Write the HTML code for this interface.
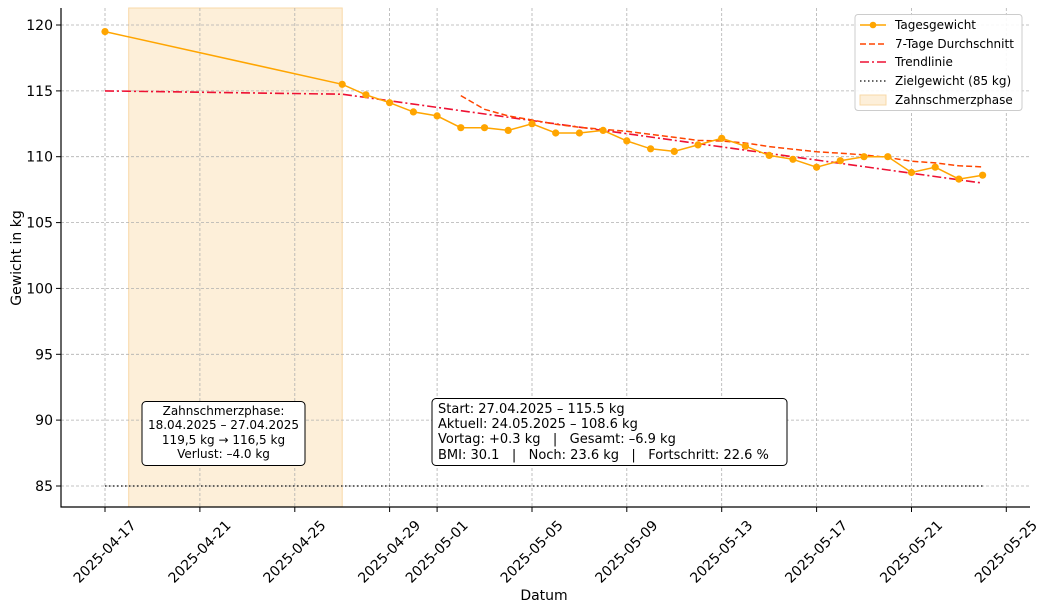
<!DOCTYPE html>
<html><head><meta charset="utf-8"><style>
html,body{margin:0;padding:0;background:#fff;}
svg text{font-family:"DejaVu Sans","Liberation Sans",sans-serif;}
</style></head><body>
<svg width="1052" height="611" viewBox="0 0 1052 611" xmlns="http://www.w3.org/2000/svg">
<rect width="1052" height="611" fill="#fff"/>
<rect x="128.7" y="8" width="213.5" height="499" fill="#fdefd9" stroke="#f8d9a8" stroke-width="1"/>
<g stroke="#b0b0b0" stroke-width="0.8" stroke-dasharray="3,2">
<line x1="61" x2="1030" y1="25" y2="25"/><line x1="61" x2="1030" y1="90.9" y2="90.9"/>
<line x1="61" x2="1030" y1="156.7" y2="156.7"/><line x1="61" x2="1030" y1="222.6" y2="222.6"/>
<line x1="61" x2="1030" y1="288.4" y2="288.4"/><line x1="61" x2="1030" y1="354.3" y2="354.3"/>
<line x1="61" x2="1030" y1="420.1" y2="420.1"/><line x1="61" x2="1030" y1="486" y2="486"/>
<line x1="105" x2="105" y1="8" y2="507"/><line x1="199.9" x2="199.9" y1="8" y2="507"/>
<line x1="294.8" x2="294.8" y1="8" y2="507"/><line x1="389.6" x2="389.6" y1="8" y2="507"/>
<line x1="437.1" x2="437.1" y1="8" y2="507"/><line x1="532" x2="532" y1="8" y2="507"/>
<line x1="626.8" x2="626.8" y1="8" y2="507"/><line x1="721.7" x2="721.7" y1="8" y2="507"/>
<line x1="816.6" x2="816.6" y1="8" y2="507"/><line x1="911.5" x2="911.5" y1="8" y2="507"/>
<line x1="1006.3" x2="1006.3" y1="8" y2="507"/>
</g>
<line x1="105" x2="983" y1="486" y2="486" stroke="#333" stroke-width="1.5" stroke-dasharray="1.5,2.5"/>
<polyline points="105,90.9 342.2,94.2 982.6,183.1" fill="none" stroke="#ee1133" stroke-width="1.6" stroke-dasharray="9,3,2,3"/>
<polyline points="460.8,95.6 484.5,109.3 508.2,115.9 532,120 555.7,124.3 579.4,127.3 603.1,129.4 626.8,131.3 650.6,134.3 674.3,137.3 698,140.4 721.7,141 745.4,143 769.2,146.6 792.9,149.2 816.6,151.8 840.3,153.2 864,154.9 887.8,157.5 911.5,161.2 935.2,162.9 958.9,165.8 982.6,166.9" fill="none" stroke="#ff4500" stroke-width="1.5" stroke-dasharray="6,3"/>
<polyline points="105,31.6 342.2,84.3 365.9,94.8 389.6,102.7 413.4,111.9 437.1,115.9 460.8,127.7 484.5,127.7 508.2,130.4 532,123.8 555.7,133 579.4,133 603.1,130.4 626.8,140.9 650.6,148.8 674.3,151.4 698,144.9 721.7,138.3 745.4,146.2 769.2,155.4 792.9,159.3 816.6,167.2 840.3,160.7 864,156.7 887.8,156.7 911.5,172.5 935.2,167.2 958.9,179.1 982.6,175.2" fill="none" stroke="#ffa500" stroke-width="1.5"/>
<g fill="#ffa500">
<circle cx="105" cy="31.6" r="3.6"/><circle cx="342.2" cy="84.3" r="3.6"/><circle cx="365.9" cy="94.8" r="3.6"/><circle cx="389.6" cy="102.7" r="3.6"/><circle cx="413.4" cy="111.9" r="3.6"/><circle cx="437.1" cy="115.9" r="3.6"/><circle cx="460.8" cy="127.7" r="3.6"/><circle cx="484.5" cy="127.7" r="3.6"/><circle cx="508.2" cy="130.4" r="3.6"/><circle cx="532" cy="123.8" r="3.6"/><circle cx="555.7" cy="133" r="3.6"/><circle cx="579.4" cy="133" r="3.6"/><circle cx="603.1" cy="130.4" r="3.6"/><circle cx="626.8" cy="140.9" r="3.6"/><circle cx="650.6" cy="148.8" r="3.6"/><circle cx="674.3" cy="151.4" r="3.6"/><circle cx="698" cy="144.9" r="3.6"/><circle cx="721.7" cy="138.3" r="3.6"/><circle cx="745.4" cy="146.2" r="3.6"/><circle cx="769.2" cy="155.4" r="3.6"/><circle cx="792.9" cy="159.3" r="3.6"/><circle cx="816.6" cy="167.2" r="3.6"/><circle cx="840.3" cy="160.7" r="3.6"/><circle cx="864" cy="156.7" r="3.6"/><circle cx="887.8" cy="156.7" r="3.6"/><circle cx="911.5" cy="172.5" r="3.6"/><circle cx="935.2" cy="167.2" r="3.6"/><circle cx="958.9" cy="179.1" r="3.6"/><circle cx="982.6" cy="175.2" r="3.6"/>
</g>
<line x1="61" x2="61" y1="8" y2="507.5" stroke="#000" stroke-width="1.2"/>
<line x1="60.5" x2="1030" y1="507" y2="507" stroke="#000" stroke-width="1.2"/>
<g stroke="#000" stroke-width="1">
<line x1="56" x2="61" y1="25" y2="25"/><line x1="56" x2="61" y1="90.9" y2="90.9"/><line x1="56" x2="61" y1="156.7" y2="156.7"/><line x1="56" x2="61" y1="222.6" y2="222.6"/><line x1="56" x2="61" y1="288.4" y2="288.4"/><line x1="56" x2="61" y1="354.3" y2="354.3"/><line x1="56" x2="61" y1="420.1" y2="420.1"/><line x1="56" x2="61" y1="486" y2="486"/>
<line x1="105" x2="105" y1="507" y2="512"/><line x1="199.9" x2="199.9" y1="507" y2="512"/><line x1="294.8" x2="294.8" y1="507" y2="512"/><line x1="389.6" x2="389.6" y1="507" y2="512"/><line x1="437.1" x2="437.1" y1="507" y2="512"/><line x1="532" x2="532" y1="507" y2="512"/><line x1="626.8" x2="626.8" y1="507" y2="512"/><line x1="721.7" x2="721.7" y1="507" y2="512"/><line x1="816.6" x2="816.6" y1="507" y2="512"/><line x1="911.5" x2="911.5" y1="507" y2="512"/><line x1="1006.3" x2="1006.3" y1="507" y2="512"/>
</g>
<g font-size="14" text-anchor="end" fill="#000">
<text x="53" y="30">120</text><text x="53" y="95.9">115</text><text x="53" y="161.7">110</text><text x="53" y="227.6">105</text><text x="53" y="293.4">100</text><text x="53" y="359.3">95</text><text x="53" y="425.1">90</text><text x="53" y="491">85</text>
</g>
<g font-size="14" text-anchor="middle" fill="#000">
<text transform="translate(108,555) rotate(-45)">2025-04-17</text>
<text transform="translate(202.9,555) rotate(-45)">2025-04-21</text>
<text transform="translate(297.8,555) rotate(-45)">2025-04-25</text>
<text transform="translate(392.6,555) rotate(-45)">2025-04-29</text>
<text transform="translate(440.1,555) rotate(-45)">2025-05-01</text>
<text transform="translate(535,555) rotate(-45)">2025-05-05</text>
<text transform="translate(629.8,555) rotate(-45)">2025-05-09</text>
<text transform="translate(724.7,555) rotate(-45)">2025-05-13</text>
<text transform="translate(819.6,555) rotate(-45)">2025-05-17</text>
<text transform="translate(914.5,555) rotate(-45)">2025-05-21</text>
<text transform="translate(1009.3,555) rotate(-45)">2025-05-25</text>
</g>
<text x="544" y="600" font-size="14" text-anchor="middle">Datum</text>
<text transform="translate(21,258) rotate(-90)" font-size="14" text-anchor="middle">Gewicht in kg</text>
<rect x="142" y="401.5" width="163" height="64" rx="4" fill="#fff" stroke="#000" stroke-width="1"/>
<g font-size="12" text-anchor="middle">
<text x="223.5" y="415">Zahnschmerzphase:</text>
<text x="223.5" y="429">18.04.2025 – 27.04.2025</text>
<text x="223.5" y="444">119,5 kg → 116,5 kg</text>
<text x="223.5" y="458">Verlust: –4.0 kg</text>
</g>
<rect x="432" y="398.5" width="355" height="67" rx="4" fill="#fff" stroke="#000" stroke-width="1"/>
<g font-size="13">
<text x="438" y="413">Start: 27.04.2025 – 115.5 kg</text>
<text x="438" y="428">Aktuell: 24.05.2025 – 108.6 kg</text>
<text x="438" y="443">Vortag: +0.3 kg&#160;&#160;&#160;|&#160;&#160;&#160;Gesamt: –6.9 kg</text>
<text x="438" y="459">BMI: 30.1&#160;&#160;&#160;|&#160;&#160;&#160;Noch: 23.6 kg&#160;&#160;&#160;|&#160;&#160;&#160;Fortschritt: 22.6 %</text>
</g>
<rect x="855" y="14.5" width="167" height="96" rx="3" fill="#fff" fill-opacity="0.9" stroke="#ccc"/>
<line x1="860" x2="886" y1="25" y2="25" stroke="#ffa500" stroke-width="1.5"/><circle cx="873" cy="25" r="3.3" fill="#ffa500"/>
<line x1="860" x2="886" y1="44" y2="44" stroke="#ff4500" stroke-width="1.5" stroke-dasharray="6,3"/>
<line x1="860" x2="886" y1="62" y2="62" stroke="#ee1133" stroke-width="1.6" stroke-dasharray="9,3,2,3"/>
<line x1="860" x2="886" y1="81" y2="81" stroke="#333" stroke-width="1.5" stroke-dasharray="1.5,2.5"/>
<rect x="860" y="95" width="26" height="10" fill="#fdefd9" stroke="#f8d9a8"/>
<g font-size="12">
<text x="895" y="29">Tagesgewicht</text>
<text x="895" y="48">7-Tage Durchschnitt</text>
<text x="895" y="66">Trendlinie</text>
<text x="895" y="85">Zielgewicht (85 kg)</text>
<text x="895" y="104">Zahnschmerzphase</text>
</g>
</svg>
</body></html>
